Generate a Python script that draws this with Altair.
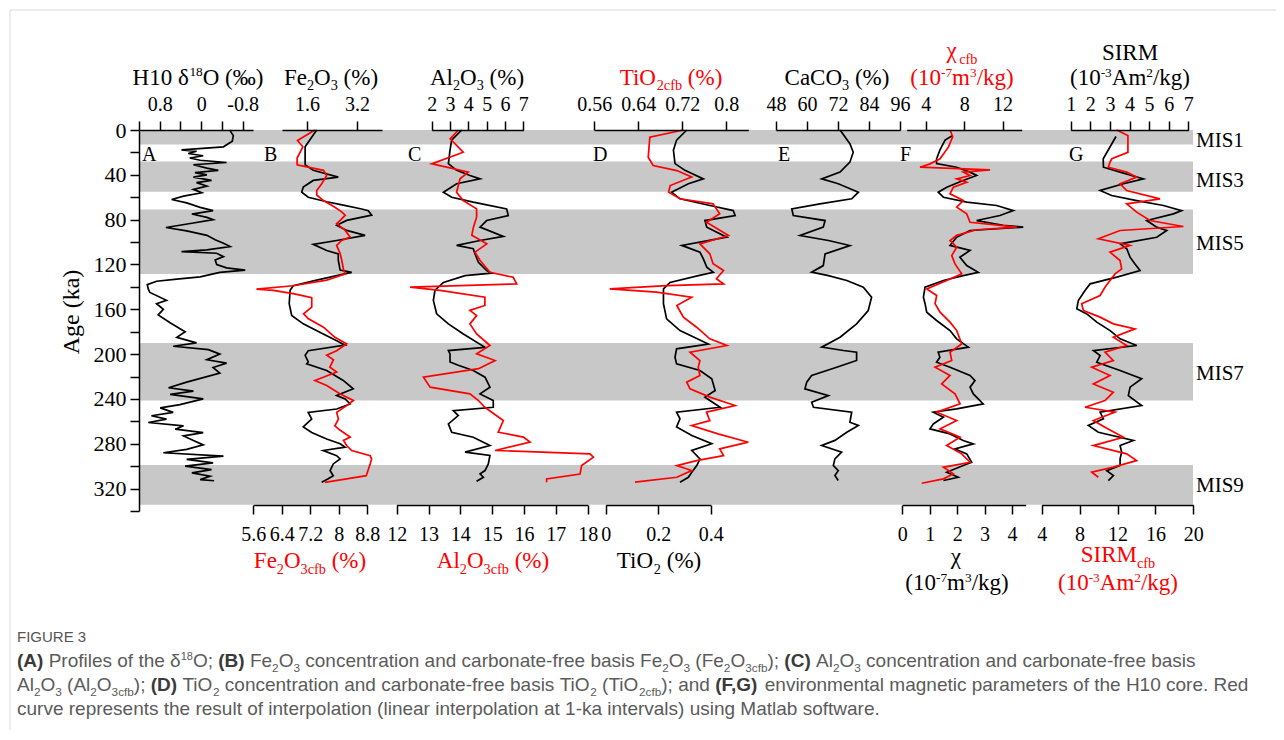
import re
import altair as alt
import pandas as pd

# ---------------- layout constants ----------------
W, H = 1054, 381            # plot area (age 0..340 ka)
X0, Y0 = 139, 130           # page position of plot origin
PAD_L, PAD_T = X0 - 8, Y0 - 8
TOTAL_W, TOTAL_H = 1268, 722
SERIF = "Liberation Serif"
SANS = "Liberation Sans"
TICK_FS = 20
YTICK_FS = 22
TITLE_FS = 23
CAP_FS = 19.0
BLACK = "#000000"
RED = "#ff0000"

# ---------------- data ----------------
MIS_NAMES = ["MIS1", "MIS3", "MIS5", "MIS7", "MIS9"]
MIS_START = [0, 28, 71, 190, 299]
MIS_END = [13, 55, 128.5, 241.5, 334.5]
MIS_LABEL_AGE = [15.6, 51.3, 107.5, 223.5, 323.4]

# (A) d18O
AGE_D18O = [0, 5, 10, 15, 17.7, 19, 21, 23, 25, 27,
            29, 31, 34, 36, 38, 40, 42, 45, 47, 50,
            53, 56, 59, 62, 65, 69, 72, 75, 78, 80,
            83, 87, 90, 94, 98, 101, 104, 107, 108.5, 110,
            113, 116, 120, 123, 125, 127, 129, 131, 133, 135,
            138, 142, 145, 152, 155, 160, 165, 172, 180, 185,
            190, 193, 196, 200, 205, 208, 212, 217, 225, 230,
            233, 236, 240, 245, 248, 252, 255, 258, 261, 264,
            267, 270, 273, 277, 281, 285, 288, 291, 294, 297,
            300, 303, 306, 309, 312, 313]
D18O = [-0.55, -0.62, -0.60, -0.43, 0.38, 0.09, 0.25, -0.04, 0.22, 0.02,
        -0.49, 0.15, -0.11, -0.33, 0.12, -0.11, 0.15, -0.20, 0.09, -0.11,
        0.15, -0.01, 0.34, 0.57, 0.28, 0.02, -0.23, 0.18, -0.11, -0.23,
        0.15, 0.68, 0.28, -0.11, -0.27, -0.43, -0.56, -0.11, 0.38, -0.30,
        -0.43, -0.27, -0.30, -0.49, -0.85, -0.36, -0.17, 0.02, 0.47, 0.86,
        1.04, 1.02, 0.99, 0.67, 0.86, 0.73, 0.83, 0.60, 0.31, 0.47,
        0.09, 0.54, -0.14, -0.36, -0.11, -0.49, -0.23, -0.36, 0.28, 0.63,
        0.15, 0.60, -0.04, 0.41, 0.79, 0.54, 0.96, 0.67, 1.02, 0.34,
        0.50, -0.04, 0.34, 0.15, -0.04, 0.28, 0.73, -0.43, 0.28, -0.23,
        0.31, -0.20, 0.18, -0.17, 0.02, -0.25]

# (B) Fe2O3 (black) and Fe2O3cfb (red)
AGE_FE = [0, 15, 31, 36, 42, 45, 51, 55.5, 60, 64,
          67, 70.5, 72, 76, 80.7, 85, 89.6, 94, 98.6, 102,
          107.5, 110.5, 116, 125, 127, 130, 134, 139, 143, 155,
          165.5, 173, 182, 188, 192, 197, 201, 207, 208.7, 214.6,
          223.5, 231, 237, 240, 244.5, 249, 252, 258, 262, 265,
          270, 275.7, 280, 283, 286, 290.6, 293.5, 298, 304, 308.5,
          311.3, 314.4]
FE2O3 = [1.91, 1.54, 1.54, 1.80, 2.60, 1.80, 1.48, 1.43, 1.64, 2.23,
         2.76, 3.35, 3.56, 3.67, 2.87, 2.55, 2.87, 3.46, 2.55, 1.80,
         2.23, 2.60, 2.60, 2.66, 3.03, 2.55, 1.91, 1.16, 1.06, 1.03,
         1.11, 1.48, 2.12, 2.55, 2.82, 1.64, 1.54, 1.64, 1.59, 2.23,
         2.76, 3.08, 2.55, 2.82, 2.98, 2.55, 1.64, 1.75, 1.59, 1.48,
         1.75, 2.23, 2.66, 2.82, 2.12, 2.55, 2.66, 2.44, 2.34, 2.44,
         2.28, 2.07]
AGE_FE_CFB = [0, 9.4, 15, 25, 31, 36, 40.6, 48, 54, 58,
              63, 69, 73, 76, 80.7, 83.5, 89.6, 95.6, 98.6, 103,
              110.5, 116, 124, 128.5, 134, 139, 142, 143.2, 146, 149.7,
              158, 164, 168.5, 176, 185, 190.8, 197, 201, 205, 211.6,
              216, 223.5, 228, 235.6, 241.4, 246, 252, 258, 264, 268,
              274, 277, 281.6, 286, 290.6, 293.5, 298, 308.5, 311.3, 314.4]
FE2O3_CFB = [7.33, 6.84, 6.99, 6.83, 6.83, 7.57, 7.66, 7.52, 7.38, 7.38,
             7.57, 7.89, 8.08, 8.18, 8.04, 7.94, 8.18, 8.32, 8.08, 7.94,
             8.04, 8.08, 8.13, 8.18, 7.66, 6.72, 5.69, 6.16, 6.72, 7.24,
             7.24, 7.01, 7.15, 7.57, 7.89, 8.22, 7.94, 7.66, 7.85, 7.75,
             7.94, 7.33, 7.66, 8.04, 8.41, 8.22, 7.94, 7.99, 7.89, 8.04,
             8.32, 8.13, 8.22, 8.36, 8.88, 8.92, 8.88, 8.77, 8.22, 7.61]

# (C) Al2O3 (black) and Al2O3cfb (red)
AGE_AL = [0, 9, 18, 30, 36, 40.6, 43.6, 48, 55.5, 60,
          64.4, 70.4, 76.3, 80.8, 86.7, 95, 98.6, 103, 106, 110.5,
          118, 125.4, 127.8, 130, 136, 143, 152, 164, 173, 182,
          194, 196.8, 199.8, 207, 210, 214.6, 220.6, 229.5, 235.5, 241.4,
          247.4, 250.4, 254.8, 262.3, 269.7, 274.2, 281.6, 287.5, 290.5, 298,
          303.9, 306.9, 309.9, 313.4]
AL2O3 = [3.64, 3.09, 3.00, 2.91, 3.36, 4.09, 4.64, 3.36, 2.64, 3.09,
         4.27, 6.09, 6.18, 5.00, 4.64, 5.91, 4.64, 3.36, 4.27, 4.36,
         4.55, 5.00, 5.27, 3.82, 2.64, 2.18, 2.09, 2.27, 2.91, 3.73,
         4.91, 2.91, 3.00, 3.00, 3.45, 4.27, 4.91, 5.18, 4.64, 5.36,
         5.36, 3.18, 3.45, 2.91, 3.09, 4.27, 5.18, 3.82, 5.18, 5.09,
         4.91, 4.64, 4.82, 4.45]
AGE_AL_CFB = [0, 7.9, 19.8, 30.2, 33.2, 37.6, 43.6, 55.5, 63, 70.4,
              77.8, 86.7, 94, 101.6, 109, 116.5, 127, 131.4, 137.3, 140.3,
              143.2, 149.2, 156.6, 161, 165.6, 173, 182, 192.3, 199.8, 205.7,
              213, 220.6, 229.5, 235.5, 241.4, 247.4, 259.3, 269.7, 274, 278.6,
              286, 289, 292, 299.5, 307, 311.4, 314.3]
AL2O3_CFB = [13.94, 13.68, 14.09, 13.10, 13.57, 14.25, 13.99, 13.88, 14.09, 14.51,
             14.51, 14.41, 14.36, 14.83, 14.46, 14.62, 14.93, 15.66, 15.77, 12.42,
             13.36, 14.77, 14.77, 14.30, 14.51, 14.30, 14.51, 14.93, 14.51, 15.09,
             14.57, 12.84, 13.05, 14.30, 14.57, 14.77, 15.35, 15.19, 15.98, 16.19,
             15.09, 18.07, 18.18, 17.81, 17.76, 16.71, 16.71]

# (D) TiO2 (black, bottom axis) and TiO2cfb (red, top axis)
AGE_TI = [0, 9, 18, 30, 36, 43.6, 48, 55.5, 61.4, 67.4,
          71.9, 76.3, 80.8, 86.7, 95.6, 103, 109, 115, 122.4, 127,
          130, 136, 141.8, 155, 168.5, 179, 191, 195.3, 202.8, 208.7,
          214.6, 222, 232.5, 238.4, 247.4, 251.8, 257.8, 265, 272.7, 280,
          286, 293.5, 299.5, 305.4, 309.9, 314.3]
TIO2 = [0.309, 0.270, 0.258, 0.264, 0.302, 0.372, 0.315, 0.251, 0.283, 0.397,
        0.486, 0.493, 0.378, 0.385, 0.461, 0.290, 0.359, 0.372, 0.385, 0.410,
        0.353, 0.245, 0.220, 0.220, 0.232, 0.283, 0.391, 0.270, 0.264, 0.270,
        0.359, 0.404, 0.417, 0.378, 0.436, 0.270, 0.283, 0.270, 0.328, 0.404,
        0.328, 0.359, 0.347, 0.328, 0.315, 0.283]
AGE_TI_CFB = [0, 6.4, 24.3, 31.7, 36.2, 42, 49.6, 55.5, 61.4, 65.9,
              74.8, 82.3, 94.2, 101.6, 110.5, 119.4, 125.4, 132.8, 137.3, 138.8,
              141.8, 144.7, 149.2, 156.6, 167, 176, 186.4, 192.3, 198.3, 205.7,
              211.7, 219.1, 225, 231, 238.4, 245.9, 251.8, 259.3, 263.7, 271.2,
              278.6, 284.6, 290.5, 295, 299.5, 303.9, 309.9, 314.3]
TIO2_CFB = [0.722, 0.661, 0.658, 0.667, 0.710, 0.737, 0.698, 0.695, 0.716, 0.776,
            0.788, 0.764, 0.804, 0.752, 0.770, 0.776, 0.795, 0.782, 0.795, 0.692,
            0.588, 0.673, 0.737, 0.710, 0.722, 0.746, 0.770, 0.801, 0.734, 0.752,
            0.749, 0.752, 0.728, 0.734, 0.770, 0.816, 0.764, 0.770, 0.737, 0.785,
            0.840, 0.788, 0.795, 0.746, 0.710, 0.737, 0.710, 0.634]

# (E) CaCO3
AGE_CA = [0, 12.3, 19.8, 28.7, 37.6, 43.6, 48, 55.5, 61.4, 65.9,
          70.4, 76.3, 80.8, 86.7, 94.2, 98.6, 103.1, 110.5, 121, 126.9,
          129.9, 134.3, 140.3, 149.2, 161.1, 173, 184.9, 193.8, 196.8, 198.3,
          205.7, 211.7, 219.1, 225, 231, 237, 243, 247.4, 251.8, 260.8,
          263.7, 269.7, 277, 281.6, 287.5, 293.5, 299.4, 304, 308.4, 312.8]
CACO3 = [72.8, 76.6, 77.9, 76.6, 72.8, 65.7, 72.1, 79.9, 77.3, 65.0,
         54.1, 54.7, 67.0, 66.3, 57.3, 68.3, 76.6, 67.0, 66.3, 61.8,
         68.3, 75.4, 81.8, 85.0, 83.7, 79.2, 72.8, 65.7, 74.1, 79.2,
         79.2, 71.5, 61.8, 59.9, 59.2, 68.3, 61.8, 62.5, 77.3, 76.6,
         79.9, 75.4, 70.8, 65.7, 73.4, 70.8, 70.2, 72.1, 70.8, 72.1]

# (F) chi (black, bottom axis) and chi_cfb (red, top axis)
AGE_CHI = [5.2, 9, 18, 25.7, 30, 33.2, 37.6, 40.6, 45, 51,
           55.5, 60, 64.4, 67.4, 71.9, 76.3, 80.8, 85, 86.7, 89.7,
           95.7, 103, 107.5, 113.5, 121, 127, 130, 134.3, 140.3, 149.2,
           155, 162.6, 170, 179, 186.4, 193.8, 198.3, 202.8, 207.2, 211.7,
           219, 223.6, 229.5, 235.5, 244.4, 248.9, 251.8, 256.3, 262.3, 266.7,
           271.2, 277.1, 280.1, 284.6, 289, 296.5, 299.4, 305.4, 309.9, 312.8]
CHI = [1.82, 1.56, 1.37, 1.25, 1.25, 1.98, 2.47, 2.71, 2.22, 1.62,
       1.31, 1.50, 2.35, 3.44, 4.05, 3.56, 2.71, 3.68, 4.41, 2.47,
       1.98, 1.74, 2.47, 2.10, 2.35, 2.77, 2.22, 1.50, 0.83, 0.77,
       0.83, 0.89, 1.25, 1.74, 1.98, 2.41, 1.31, 1.37, 1.25, 1.74,
       2.47, 2.65, 2.47, 2.59, 2.95, 1.98, 1.13, 1.50, 1.13, 1.01,
       1.74, 2.22, 2.59, 1.92, 2.35, 2.53, 2.22, 1.62, 2.04, 1.50]
AGE_CHI_CFB = [0, 6, 15.3, 25.7, 30.2, 33.2, 35.6, 37.6, 40.6, 43.6,
               46.6, 51, 57, 63, 68.9, 74.8, 82.3, 86.7, 89, 94,
               98.6, 104.6, 112, 119.5, 128.4, 134.3, 141.8, 147.7, 155, 162.6,
               171.5, 179, 191, 198.3, 205.7, 211.7, 219, 226.6, 235.5, 244.4,
               251.8, 259.3, 266.7, 274.2, 281.6, 289, 296.5, 301, 306.9, 311.3,
               315.2]
CHI_CFB = [6.52, 6.80, 6.35, 5.48, 4.43, 3.39, 10.70, 7.91, 8.61, 7.22,
           8.26, 6.87, 6.52, 7.91, 7.22, 8.26, 8.61, 13.48, 9.30, 7.22,
           6.52, 7.22, 6.70, 7.04, 7.74, 6.17, 4.09, 5.13, 4.96, 5.48,
           6.52, 7.22, 7.74, 6.52, 6.70, 4.96, 6.52, 5.65, 7.04, 7.57,
           5.13, 7.22, 5.48, 7.57, 6.17, 7.74, 8.61, 5.83, 6.87, 5.83,
           3.57]

# (G) SIRM (black, top axis) and SIRMcfb (red, bottom axis)
AGE_SIRM = [5.8, 25.7, 33.2, 37.6, 43.6, 48, 54, 58.5, 63, 67.4,
            71.9, 74.8, 80.8, 86.7, 89.7, 95.7, 101.6, 106, 113.5, 119.5,
            125.4, 131.3, 137.3, 143.2, 152.2, 159.6, 164.1, 171.5, 179, 186.4,
            192.3, 196.8, 201.3, 207.2, 214.6, 222, 229.5, 237, 245.9, 251.8,
            257.8, 263.7, 269.7, 277.1, 281.6, 287.5, 293.5, 299.4, 304, 308.4,
            312.8]
SIRM = [3.31, 2.66, 2.67, 3.52, 4.71, 3.69, 2.50, 3.09, 4.37, 5.73,
        6.66, 6.24, 4.88, 5.39, 5.90, 5.39, 3.52, 3.86, 4.03, 4.28,
        4.54, 3.35, 1.99, 1.73, 1.39, 1.31, 1.82, 2.33, 3.01, 3.52,
        4.37, 2.16, 2.50, 2.33, 3.52, 4.62, 4.03, 3.94, 4.62, 2.50,
        2.67, 1.90, 2.41, 4.20, 3.52, 3.60, 3.52, 3.52, 2.84, 3.18,
        2.92]
AGE_SIRM_CFB = [0, 5, 20, 25.7, 28.7, 33.2, 37.6, 42, 48, 54,
                61.4, 65.9, 73.3, 80.8, 86.1, 89.7, 97.1, 103, 109, 116.5,
                124, 128.4, 134.3, 140.3, 147.7, 155.1, 161.1, 167, 173, 177.5,
                184.9, 192.3, 198.3, 205.7, 211.7, 219.1, 226.6, 234, 241.4, 247.4,
                251.8, 259.3, 265.2, 274.2, 281.6, 289, 295, 300.9, 305.4, 309.9]
SIRM_CFB = [11.9, 13.1, 13.1, 11.4, 11.21, 11.03, 12.97, 14.02, 12.27, 12.97,
            16.49, 12.97, 14.02, 15.43, 18.95, 12.27, 9.98, 13.32, 11.21, 12.27,
            12.44, 11.74, 11.21, 10.68, 10.16, 8.22, 8.40, 10.16, 11.56, 13.85,
            11.56, 12.97, 10.68, 11.56, 9.28, 11.21, 9.45, 11.56, 10.68, 8.57,
            11.74, 9.45, 10.68, 12.62, 9.45, 12.97, 14.02, 11.56, 9.28, 9.98]

# axis tick values / labels
TICKS_D18O = [1.2, 0.8, 0.4, 0, -0.4, -0.8]
LABELS_D18O = ["", "0.8", "", "0", "", "-0.8"]
TICKS_FE = [1.6, 3.2]
TICKS_FE_CFB = [5.6, 6.4, 7.2, 8, 8.8]
TICKS_AL = [2, 3, 4, 5, 6, 7]
TICKS_AL_CFB = [12, 13, 14, 15, 16, 17, 18]
TICKS_TI_CFB = [0.56, 0.64, 0.72, 0.8]
TICKS_TI = [0, 0.2, 0.4]
TICKS_CA = [48, 60, 72, 84, 96]
TICKS_CHI_CFB = [4, 8, 12]
TICKS_CHI = [0, 1, 2, 3, 4]
TICKS_SIRM = [1, 2, 3, 4, 5, 6, 7]
TICKS_SIRM_CFB = [4, 8, 12, 16, 20]

PANEL_LETTERS = ["A", "B", "C", "D", "E", "F", "G"]

# ---------------- text width helpers ----------------
TIMES_W = {' ': .25, '(': .333, ')': .333, '%': .833, '‰': 1.0, '-': .333, '/': .278, '.': .25,
           'A': .722, 'C': .667, 'F': .556, 'H': .722, 'I': .333, 'M': .889, 'O': .722, 'R': .667,
           'S': .556, 'T': .611, 'a': .444, 'b': .5, 'c': .444, 'e': .444, 'f': .333, 'g': .5,
           'i': .278, 'k': .5, 'l': .278, 'm': .778, 'δ': .5, 'χ': .55}
ARIAL_W = {' ': .278, '(': .333, ')': .333, ',': .278, ';': .278, '.': .278, '-': .333, 'δ': .556,
           'A': .667, 'B': .667, 'C': .722, 'D': .722, 'E': .667, 'F': .611, 'G': .778, 'H': .722,
           'I': .278, 'M': .833, 'O': .778, 'P': .667, 'R': .722, 'T': .611, 'U': .722,
           'a': .556, 'b': .556, 'c': .5, 'd': .556, 'e': .556, 'f': .278, 'g': .556, 'h': .556,
           'i': .222, 'j': .222, 'k': .5, 'l': .222, 'm': .833, 'n': .556, 'o': .556, 'p': .556,
           'q': .556, 'r': .333, 's': .5, 't': .278, 'u': .556, 'v': .5, 'w': .722, 'x': .5,
           'y': .5, 'z': .5}
ARIAL_BOLD_W = {' ': .278, '(': .333, ')': .333, ',': .278, 'A': .722, 'B': .722, 'C': .722,
                'D': .722, 'F': .611, 'G': .778}


def text_width(s, fs, kind, bold=False):
    tot = 0.0
    for ch in s:
        if kind == "serif":
            w = TIMES_W.get(ch, .5)
        else:
            w = (ARIAL_BOLD_W if bold else ARIAL_W).get(ch, .556)
        tot += w
    return tot * fs


def layout(markup, size, kind):
    segs = []
    for m in re.finditer(r"\*\*(.+?)\*\*|_\{(.+?)\}|\^\{(.+?)\}|([^*_^]+)", markup):
        if m.group(1):
            segs.append((m.group(1), "b"))
        elif m.group(2):
            segs.append((m.group(2), "sub"))
        elif m.group(3):
            segs.append((m.group(3), "sup"))
        else:
            segs.append((m.group(4), "n"))
    out, x = [], 0.0
    for text, k in segs:
        if k == "sub":
            fs, dy = size * 0.62, size * 0.24
        elif k == "sup":
            fs, dy = size * 0.58, -size * 0.36
        else:
            fs, dy = size, 0.0
        bold = k == "b"
        for part in re.split(r"( +)", text):
            if not part:
                continue
            w = text_width(part, fs, kind, bold)
            if part.strip():
                out.append(dict(dx=x, dy=dy, t=part, fs=round(fs, 2), bold=bold))
            x += w
    return out, x


def place(markup, size, kind, x, y, color, anchor="center"):
    pieces, total = layout(markup, size, kind)
    x0 = x - total / 2 if anchor == "center" else x
    rows = []
    for p in pieces:
        rows.append(dict(px=x0 + p["dx"] - X0, py=y + p["dy"] - Y0, t=p["t"], fs=p["fs"],
                         col=color, bold=p["bold"]))
    return rows


# panel titles (page coordinates of centre / baseline)
title_rows = []
for mk, cx, by, col in [
    ("H10 δ^{18}O (‰)", 198, 84.5, BLACK),
    ("Fe_{2}O_{3} (%)", 331, 84.5, BLACK),
    ("Al_{2}O_{3} (%)", 477, 84.5, BLACK),
    ("TiO_{2cfb} (%)", 671, 84.5, RED),
    ("CaCO_{3} (%)", 837, 84.5, BLACK),
    ("χ_{cfb}", 962, 58, RED),
    ("(10^{-7}m^{3}/kg)", 962, 85, RED),
    ("SIRM", 1130, 60, BLACK),
    ("(10^{-3}Am^{2}/kg)", 1130, 85, BLACK),
    ("Fe_{2}O_{3cfb} (%)", 310, 568, RED),
    ("Al_{2}O_{3cfb} (%)", 493, 568, RED),
    ("TiO_{2} (%)", 659, 568, BLACK),
    ("χ", 957, 564, BLACK),
    ("(10^{-7}m^{3}/kg)", 957, 590, BLACK),
    ("SIRM_{cfb}", 1118, 562, RED),
    ("(10^{-3}Am^{2}/kg)", 1118, 590, RED),
]:
    title_rows += place(mk, TITLE_FS, "serif", cx, by, col)
titles_df = pd.DataFrame(title_rows)

letter_x = [142, 264, 408, 593, 778, 900, 1069]
letters_df = pd.DataFrame({"t": PANEL_LETTERS,
                           "px": [v - X0 for v in letter_x],
                           "py": [160.5 - Y0] * len(PANEL_LETTERS)})

CAPTION = [
    "**(A)** Profiles of the δ^{18}O; **(B)** Fe_{2}O_{3} concentration and carbonate-free basis Fe_{2}O_{3} (Fe_{2}O_{3cfb}); **(C)** Al_{2}O_{3} concentration and carbonate-free basis",
    "Al_{2}O_{3} (Al_{2}O_{3cfb}); **(D)** TiO_{2} concentration and carbonate-free basis TiO_{2} (TiO_{2cfb}); and **(F,G)** environmental magnetic parameters of the H10 core. Red",
    "curve represents the result of interpolation (linear interpolation at 1-ka intervals) using Matlab software.",
]
cap_rows = []
for i, line in enumerate(CAPTION):
    cap_rows += place(line, CAP_FS, "sans", 17, 667 + 24 * i, "#5b5b5b", anchor="left")
cap_df = pd.DataFrame(cap_rows)
cap_norm = cap_df[~cap_df["bold"]]
cap_bold = cap_df[cap_df["bold"]].assign(col="#3a3a3a")

# ---------------- chart pieces ----------------
yscale = alt.Scale(domain=[0, 340], reverse=True, nice=False, zero=False)


def lab_expr(ticks, labels):
    expr = "''"
    for t, l in reversed(list(zip(ticks, labels))):
        expr = f"abs(datum.value - ({t})) < 1e-6 ? '{l}' : {expr}"
    return expr


def xaxis(orient, ticks, labels=None):
    if labels is None:
        labels = [("%g" % t) for t in ticks]
    return alt.Axis(orient=orient, values=ticks, labelExpr=lab_expr(ticks, labels), title=None,
                    grid=False, domainColor="black", domainWidth=1.5, tickColor="black",
                    tickWidth=1.5, tickSize=9, labelFont=SERIF, labelFontSize=TICK_FS,
                    labelColor="black", labelBaseline="alphabetic",
                    labelPadding=(11 if orient == "top" else 26), labelFlush=False,
                    labelOverlap=False, offset=(0 if orient == "top" else -6), zindex=2)


def series(ages, vals, domain, rng, color, orient, ticks, labels=None):
    n = min(len(ages), len(vals))
    df = pd.DataFrame({"age": ages[:n], "v": vals[:n]})
    return alt.Chart(df).mark_line(color=color, strokeWidth=1.7, clip=False).encode(
        x=alt.X("v:Q", scale=alt.Scale(domain=domain, range=rng, nice=False, zero=False),
                axis=xaxis(orient, ticks, labels)),
        y=alt.Y("age:Q", scale=yscale, axis=None),
        order="age:Q",
    )


yaxis = alt.Axis(values=list(range(0, 341, 20)),
                 labelExpr="datum.value % 40 == 0 && datum.value <= 320 ? datum.label : ''",
                 title=None, grid=False, domainColor="black", domainWidth=1.5, tickColor="black",
                 tickWidth=1.5, tickSize=9, labelFont=SERIF, labelFontSize=YTICK_FS,
                 labelColor="black", labelPadding=4, labelFlush=False, labelOverlap=False, zindex=2)

bands = alt.Chart(pd.DataFrame({"s": MIS_START, "e": MIS_END})).mark_rect(color="#c8c8c8").encode(
    y=alt.Y("s:Q", scale=yscale, axis=yaxis), y2="e:Q", x=alt.value(0), x2=alt.value(W))

mis_labels = alt.Chart(pd.DataFrame({"name": MIS_NAMES, "age": MIS_LABEL_AGE})).mark_text(
    align="left", baseline="alphabetic", font=SERIF, fontSize=21, color="black").encode(
    y=alt.Y("age:Q", scale=yscale, axis=None), x=alt.value(W + 3), text="name:N")


def text_layer(df, font, weight="normal"):
    return alt.Chart(df).mark_text(align="left", baseline="alphabetic", font=font,
                                   fontWeight=weight).encode(
        x=alt.X("px:Q", scale=None, axis=None), y=alt.Y("py:Q", scale=None, axis=None),
        text="t:N", size=alt.Size("fs:Q", scale=None, legend=None),
        color=alt.Color("col:N", scale=None, legend=None))


letters = alt.Chart(letters_df).mark_text(align="left", baseline="alphabetic", font=SERIF,
                                          fontSize=20, color="black").encode(
    x=alt.X("px:Q", scale=None, axis=None), y=alt.Y("py:Q", scale=None, axis=None), text="t:N")

age_title = alt.Chart(pd.DataFrame({"t": ["Age (ka)"], "px": [72 - X0], "py": [312 - Y0]})).mark_text(
    align="center", baseline="middle", angle=270, font=SERIF, fontSize=24, color="black").encode(
    x=alt.X("px:Q", scale=None, axis=None), y=alt.Y("py:Q", scale=None, axis=None), text="t:N")

fig_label = alt.Chart(pd.DataFrame({"t": ["FIGURE 3"], "px": [17 - X0], "py": [642 - Y0]})).mark_text(
    align="left", baseline="alphabetic", font=SANS, fontSize=15, color="#555555").encode(
    x=alt.X("px:Q", scale=None, axis=None), y=alt.Y("py:Q", scale=None, axis=None), text="t:N")

one = pd.DataFrame({"a": [0]})
frame_h = alt.Chart(one).mark_rule(color="#d9d9d9", strokeWidth=1).encode(
    x=alt.value(2 - PAD_L), x2=alt.value(TOTAL_W - PAD_L), y=alt.value(2 - PAD_T))
frame_v = alt.Chart(one).mark_rule(color="#d9d9d9", strokeWidth=1).encode(
    x=alt.value(2 - PAD_L), y=alt.value(2 - PAD_T), y2=alt.value(TOTAL_H - PAD_T))

layers = [
    bands,
    series(AGE_D18O, D18O, [1.2, -1.0], [0, 114], BLACK, "top", TICKS_D18O, LABELS_D18O),
    series(AGE_FE, FE2O3, [0.8, 4.0], [143, 243], BLACK, "top", TICKS_FE),
    series(AGE_AL, AL2O3, [2, 7], [292.7, 384.3], BLACK, "top", TICKS_AL),
    series(AGE_TI, TIO2, [0, 0.4], [466.7, 571.7], BLACK, "bottom", TICKS_TI),
    series(AGE_CA, CACO3, [48, 96], [637, 761], BLACK, "top", TICKS_CA),
    series(AGE_CHI, CHI, [0, 4.5], [763.3, 886.7], BLACK, "bottom", TICKS_CHI),
    series(AGE_SIRM, SIRM, [1, 7], [931.7, 1049.3], BLACK, "top", TICKS_SIRM),
    series(AGE_FE_CFB, FE2O3_CFB, [5.6, 8.8], [114.3, 228.3], RED, "bottom", TICKS_FE_CFB),
    series(AGE_AL_CFB, AL2O3_CFB, [12, 18], [257.7, 448.7], RED, "bottom", TICKS_AL_CFB),
    series(AGE_TI_CFB, TIO2_CFB, [0.56, 0.84], [455.3, 609.3], RED, "top", TICKS_TI_CFB,
           ["0.56", "0.64", "0.72", "0.8"]),
    series(AGE_CHI_CFB, CHI_CFB, [2, 14], [767.7, 882.7], RED, "top", TICKS_CHI_CFB),
    series(AGE_SIRM_CFB, SIRM_CFB, [4, 20], [902.7, 1054.3], RED, "bottom", TICKS_SIRM_CFB),
    mis_labels,
    letters,
    text_layer(titles_df, SERIF),
    age_title,
    fig_label,
    text_layer(cap_norm, SANS),
    text_layer(cap_bold, SANS, "bold"),
    frame_h,
    frame_v,
]

chart = alt.layer(*layers).resolve_scale(x="independent", y="independent").resolve_axis(
    x="independent", y="independent").properties(
    width=W, height=H,
    autosize=alt.AutoSizeParams(type="none"),
    padding={"left": PAD_L, "top": PAD_T, "right": TOTAL_W - PAD_L - W,
             "bottom": TOTAL_H - PAD_T - H},
    background="white",
).configure_view(stroke=None)

chart.save("out.html", embed_options={"renderer": "svg", "actions": False})
